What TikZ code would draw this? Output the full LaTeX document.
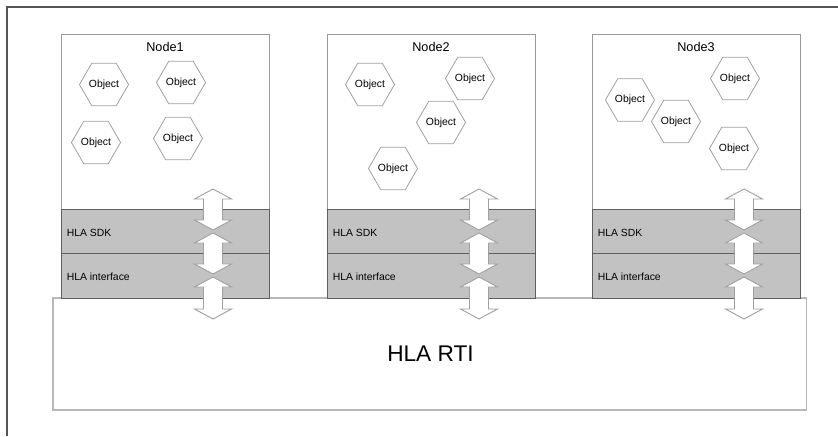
\documentclass[tikz,border=0pt]{standalone}
\usepackage{fontspec}
\setmainfont{Liberation Sans}
\usetikzlibrary{shapes.geometric,calc}

\newdimen\hlapx
\hlapx=0.75pt
\definecolor{framecol}{HTML}{555555}
\definecolor{boxcol}{HTML}{9A9A9A}
\definecolor{bandfill}{HTML}{C2C2C2}
\definecolor{bandline}{HTML}{606060}
\definecolor{rticol}{HTML}{B8B8B8}
\definecolor{hexcol}{HTML}{A0A0A0}
\definecolor{arrowcol}{HTML}{A0A0A0}

% vertical double arrow between two named tip coordinates
\newcommand\hladblarrow[2]{%
  \draw[arrowshape]
    (#1) -- ($(#1)+(18.5,10)$) -- ($(#1)+(9.5,10)$) -- ($(#2)+(9.5,-10)$)
    -- ($(#2)+(18.5,-10)$) -- (#2) -- ($(#2)+(-18.5,-10)$) -- ($(#2)+(-9.5,-10)$)
    -- ($(#1)+(-9.5,10)$) -- ($(#1)+(-18.5,10)$) -- cycle;}

\begin{document}
\begin{tikzpicture}[x=0.75pt,y=-0.75pt,
  hostbox/.style={draw=boxcol,line width=1\hlapx,fill=white,anchor=north west,
    minimum width=208\hlapx,minimum height=263.5\hlapx,inner sep=0pt,outer sep=0pt},
  bandbox/.style={draw=bandline,line width=1\hlapx,fill=bandfill,anchor=north west,
    minimum width=208\hlapx,minimum height=44.5\hlapx,inner sep=0pt,outer sep=0pt},
  rtibox/.style={draw=rticol,line width=1.2\hlapx,fill=white,anchor=north west,
    minimum width=753.7\hlapx,minimum height=112\hlapx,inner sep=0pt,outer sep=0pt},
  hexobj/.style={regular polygon,regular polygon sides=6,draw=hexcol,line width=0.8\hlapx,
    fill=white,minimum size=48\hlapx,inner sep=0pt,font=\fontsize{7.8}{9}\selectfont},
  titletext/.style={font=\fontsize{9.5}{11}\selectfont,inner sep=0pt},
  bandtext/.style={font=\fontsize{7.8}{9}\selectfont,inner sep=0pt,anchor=west},
  arrowshape/.style={draw=arrowcol,line width=0.9\hlapx,fill=white,line join=miter},
]
\useasboundingbox (0,0) rectangle (838,436);

% outer frame (top and left edges)
\draw[framecol,line width=1.5\hlapx] (7,436) -- (7,7) -- (838,7);

% runtime infrastructure
\node[rtibox] (rti) at (53,298) {};
\node[font=\fontsize{17}{20}\selectfont,inner sep=0pt] (rtitext) at (430.5,354) {HLA RTI};

% three federate hosts
\foreach \i/\x in {1/61,2/327,3/592}{
  \node[hostbox] (host\i) at (\x,34.7) {};
  \node[bandbox] (sdk\i) at (\x,209.3) {};
  \node[bandbox] (iface\i) at (\x,253.8) {};
  \node[titletext] (title\i) at ($(\x,47)+(104,0)$) {Node\i};
  \node[bandtext] (sdktext\i) at ($(\x,232.5)+(5.5,0)$) {HLA SDK};
  \node[bandtext] (ifacetext\i) at ($(\x,276.5)+(5.5,0)$) {HLA interface};
  \coordinate (a\i t1) at ($(\x,189)+(152,0)$);
  \coordinate (a\i b1) at ($(\x,230)+(152,0)$);
  \coordinate (a\i t2) at ($(\x,233)+(152,0)$);
  \coordinate (a\i b2) at ($(\x,274)+(152,0)$);
  \coordinate (a\i t3) at ($(\x,277)+(152,0)$);
  \coordinate (a\i b3) at ($(\x,319)+(152,0)$);
}

% objects of Node1
\node[hexobj] (o11) at (104,84.5) {Object};
\node[hexobj] (o12) at (181,82.5) {Object};
\node[hexobj] (o13) at (96,142.5) {Object};
\node[hexobj] (o14) at (178,138.5) {Object};
% objects of Node2
\node[hexobj] (o21) at (370,84.5) {Object};
\node[hexobj] (o22) at (470,78.5) {Object};
\node[hexobj] (o23) at (441,122.5) {Object};
\node[hexobj] (o24) at (393,168.5) {Object};
% objects of Node3
\node[hexobj] (o31) at (630,100) {Object};
\node[hexobj] (o32) at (735,78.5) {Object};
\node[hexobj] (o33) at (676,121.5) {Object};
\node[hexobj] (o34) at (734,148.5) {Object};

% data flow between the layers
\foreach \i in {1,2,3}{
  \hladblarrow{a\i t1}{a\i b1}
  \hladblarrow{a\i t2}{a\i b2}
  \hladblarrow{a\i t3}{a\i b3}
}
\end{tikzpicture}
\end{document}
